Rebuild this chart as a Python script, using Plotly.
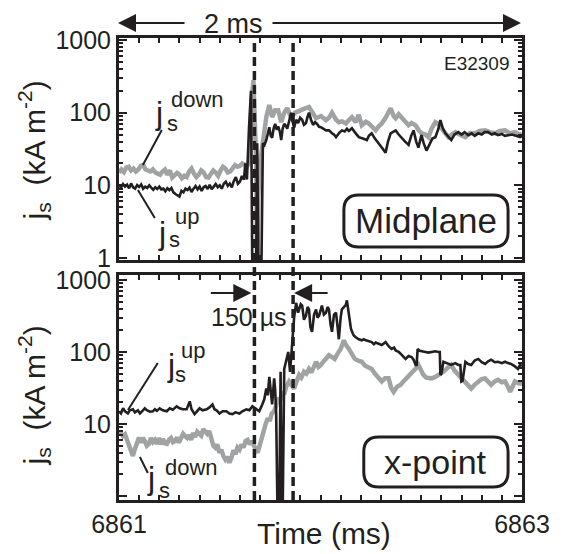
import plotly.graph_objects as go

# ---------------- data (time offsets in ms from 6861, values in kA m^-2) -------------
T0 = 6861.0

mid_down_t = [0.000, 0.012, 0.024, 0.036, 0.048, 0.060, 0.072, 0.084, 0.096, 0.108, 0.120, 0.132, 0.144, 0.156,
              0.168, 0.180, 0.192, 0.204, 0.216, 0.228, 0.240, 0.252, 0.264, 0.276, 0.288, 0.300, 0.312, 0.324,
              0.336, 0.348, 0.360, 0.372, 0.384, 0.396, 0.408, 0.420, 0.432, 0.444, 0.456, 0.468, 0.480, 0.492,
              0.504, 0.516, 0.528, 0.540, 0.552, 0.564, 0.576, 0.588, 0.600, 0.612, 0.624, 0.636, 0.648, 0.657,
              0.667, 0.675, 0.681, 0.686, 0.691, 0.700, 0.711, 0.721, 0.731, 0.746, 0.760, 0.775, 0.790, 0.805,
              0.820, 0.835, 0.854, 0.874, 0.894, 0.914, 0.943, 0.963, 0.978, 1.002, 1.027, 1.042, 1.057, 1.077,
              1.091, 1.106, 1.126, 1.141, 1.156, 1.175, 1.190, 1.205, 1.225, 1.240, 1.260, 1.274, 1.289, 1.304,
              1.323, 1.348, 1.363, 1.373, 1.388, 1.402, 1.422, 1.437, 1.452, 1.472, 1.486, 1.501, 1.521, 1.536,
              1.551, 1.570, 1.585, 1.600, 1.620, 1.635, 1.649, 1.669, 1.690, 1.719, 1.740, 1.768, 1.790, 1.817,
              1.840, 1.867, 1.890, 1.916, 1.940, 1.965, 1.990, 2.000]
mid_down_v = [15, 16.5, 15.2, 17.5, 18, 16, 17, 15.5, 16.5, 18.5, 19, 16.5, 16, 15.5,
              16.5, 15, 14.5, 14, 15.5, 16.5, 14, 16, 12.8, 13.5, 14.8, 14, 12.5, 13.5,
              13, 15.5, 17, 14.5, 13, 14, 16, 15, 13, 12.8, 14.5, 16, 15, 13.5,
              16, 18, 17, 15, 15.5, 17.5, 19, 18, 18.5, 20, 19.5, 18.5, 21, 135,
              280, 60, 20, 0.5, 7, 20, 34, 60, 87, 127, 87, 108, 108, 74,
              100, 115, 87, 100, 108, 112, 120, 100, 84, 90, 79, 85, 100, 80,
              74, 76, 71, 79, 87, 74, 93, 67, 75, 71, 64, 57, 65, 71,
              85, 115, 90, 84, 95, 87, 75, 67, 72, 67, 58, 52, 50, 46,
              60, 74, 70, 63, 52, 46, 50, 54, 50, 46, 52, 52, 56, 57,
              54, 52, 56, 57, 52, 54, 49, 52]

mid_up_t = [0.000, 0.010, 0.020, 0.030, 0.040, 0.050, 0.060, 0.070, 0.080, 0.090, 0.100, 0.110, 0.120, 0.130,
            0.140, 0.150, 0.160, 0.170, 0.180, 0.190, 0.200, 0.210, 0.220, 0.230, 0.240, 0.250, 0.260, 0.270,
            0.280, 0.290, 0.300, 0.310, 0.320, 0.330, 0.340, 0.350, 0.360, 0.370, 0.380, 0.390, 0.400, 0.410,
            0.420, 0.430, 0.440, 0.450, 0.460, 0.470, 0.480, 0.490, 0.500, 0.510, 0.520, 0.530, 0.540, 0.550,
            0.560, 0.570, 0.580, 0.590, 0.600, 0.610, 0.620, 0.627, 0.635, 0.645, 0.655, 0.662, 0.672, 0.680,
            0.686, 0.692, 0.700, 0.706, 0.714, 0.722, 0.731, 0.740, 0.746, 0.753, 0.760, 0.768, 0.775, 0.783,
            0.790, 0.798, 0.805, 0.812, 0.820, 0.828, 0.835, 0.845, 0.854, 0.862, 0.869, 0.879, 0.889, 0.899,
            0.909, 0.918, 0.928, 0.936, 0.943, 0.953, 0.963, 0.973, 0.983, 0.993, 1.002, 1.015, 1.027, 1.042,
            1.050, 1.057, 1.067, 1.077, 1.091, 1.106, 1.120, 1.131, 1.141, 1.156, 1.170, 1.190, 1.210, 1.230,
            1.240, 1.254, 1.270, 1.289, 1.305, 1.323, 1.335, 1.348, 1.360, 1.373, 1.388, 1.402, 1.420, 1.437,
            1.450, 1.462, 1.475, 1.486, 1.501, 1.512, 1.526, 1.540, 1.555, 1.570, 1.585, 1.595, 1.608, 1.620,
            1.635, 1.649, 1.665, 1.684, 1.700, 1.715, 1.733, 1.750, 1.765, 1.783, 1.800, 1.815, 1.832, 1.850,
            1.865, 1.881, 1.900, 1.915, 1.931, 1.950, 1.970, 1.990, 2.000]
mid_up_v = [10, 9.3, 10.4, 9.6, 10.2, 9.1, 10.6, 9.4, 9.0, 10.1, 9.5, 10.3, 9.0, 9.6,
            9.2, 10.0, 9.3, 8.7, 9.4, 8.9, 9.6, 8.8, 9.0, 8.3, 9.1, 8.6, 9.2, 8.0,
            7.6, 7.2, 7.0, 8.4, 8.0, 9.0, 8.6, 9.3, 8.1, 9.0, 9.8, 8.8, 9.6, 8.4,
            9.4, 9.8, 8.9, 10.2, 8.8, 9.6, 10.4, 9.4, 10.0, 9.0, 10.5, 11.2, 9.8, 10.6,
            9.4, 11.5, 13.0, 10.5, 11.2, 13.5, 12.0, 20, 12, 60, 200, 0.5, 0.5, 0.5,
            38, 0.5, 0.5, 0.5, 38, 36, 42, 55, 63, 48, 45, 62, 70, 58,
            65, 55, 42, 60, 70, 66, 60, 78, 100, 75, 62, 80, 72, 85,
            80, 68, 72, 88, 100, 80, 68, 74, 70, 64, 63, 60, 57, 57,
            54, 52, 50, 46, 52, 57, 55, 60, 56, 61, 54, 46, 44, 42,
            48, 52, 44, 38, 33, 28, 40, 52, 54, 57, 50, 46, 40, 36,
            48, 57, 40, 33, 49, 38, 30, 36, 44, 46, 60, 79, 60, 52,
            46, 42, 50, 54, 50, 54, 49, 52, 48, 52, 50, 54, 54, 50,
            52, 49, 51, 48, 49, 50, 48, 46, 48]

xp_down_t = [0.000, 0.010, 0.020, 0.030, 0.040, 0.050, 0.060, 0.069, 0.079, 0.089, 0.099, 0.109, 0.119, 0.128,
             0.138, 0.148, 0.158, 0.168, 0.178, 0.188, 0.198, 0.208, 0.218, 0.228, 0.238, 0.248, 0.258, 0.268,
             0.278, 0.288, 0.298, 0.308, 0.318, 0.328, 0.338, 0.348, 0.358, 0.368, 0.378, 0.388, 0.398, 0.408,
             0.418, 0.428, 0.438, 0.448, 0.458, 0.468, 0.478, 0.488, 0.498, 0.508, 0.518, 0.528, 0.538, 0.548,
             0.558, 0.568, 0.578, 0.588, 0.598, 0.608, 0.618, 0.628, 0.638, 0.648, 0.658, 0.668, 0.678, 0.688,
             0.698, 0.708, 0.718, 0.728, 0.738, 0.748, 0.758, 0.770, 0.780, 0.790, 0.800, 0.810, 0.820, 0.830,
             0.844, 0.855, 0.869, 0.880, 0.894, 0.905, 0.918, 0.930, 0.943, 0.955, 0.968, 0.978, 0.990, 1.002,
             1.017, 1.030, 1.042, 1.057, 1.070, 1.085, 1.100, 1.116, 1.126, 1.141, 1.155, 1.170, 1.185, 1.205,
             1.220, 1.240, 1.254, 1.270, 1.285, 1.304, 1.320, 1.338, 1.350, 1.363, 1.380, 1.398, 1.415, 1.427,
             1.445, 1.462, 1.475, 1.486, 1.498, 1.511, 1.525, 1.551, 1.570, 1.590, 1.610, 1.630, 1.649, 1.665,
             1.684, 1.700, 1.719, 1.735, 1.748, 1.765, 1.783, 1.800, 1.817, 1.832, 1.847, 1.865, 1.881, 1.900,
             1.916, 1.930, 1.941, 1.955, 1.965, 1.980, 2.000]
xp_down_v = [8, 7.5, 6.8, 7.2, 6, 5, 4, 3.6, 4.5, 5.8, 6.5, 5.5, 6.4, 5.8,
             5.0, 5.3, 6.4, 5.6, 6.0, 5.3, 6.4, 5.2, 6.2, 5.4, 5.3, 6.0, 6.4, 5.6,
             5.8, 6.5, 5.5, 6.4, 7.3, 6.8, 6.4, 7.0, 6.0, 7.5, 6.6, 7.8, 7.3, 6.9,
             8.5, 7.6, 7.3, 8.0, 6.2, 5.0, 4.7, 5.2, 4.0, 4.4, 3.6, 3.2, 3.5, 2.9,
             3.4, 4.3, 3.8, 4.7, 4.4, 5.2, 4.7, 5.8, 6.0, 5.2, 5.8, 5.0, 4.4, 4.0,
             5.0, 6.5, 8.0, 10, 12, 11, 14, 15, 18, 23, 21, 28, 26, 33,
             39, 35, 31, 38, 48, 44, 53, 50, 58, 52, 65, 73, 62, 66,
             75, 82, 90, 85, 80, 95, 110, 145, 125, 110, 95, 80, 76, 73,
             65, 62, 58, 50, 44, 39, 43, 43, 32, 28, 33, 35, 40, 43,
             48, 53, 60, 66, 55, 48, 44, 43, 45, 48, 53, 60, 66, 55,
             48, 44, 39, 33, 31, 35, 39, 42, 43, 38, 35, 39, 41, 38,
             39, 33, 28, 34, 39, 37, 36]

xp_up_t = [0.000, 0.010, 0.020, 0.030, 0.044, 0.054, 0.069, 0.079, 0.094, 0.104, 0.119, 0.128, 0.138, 0.153,
           0.168, 0.178, 0.188, 0.202, 0.217, 0.237, 0.252, 0.267, 0.286, 0.301, 0.316, 0.336, 0.351, 0.360,
           0.375, 0.385, 0.400, 0.415, 0.435, 0.449, 0.464, 0.474, 0.484, 0.499, 0.514, 0.533, 0.548, 0.563,
           0.578, 0.598, 0.612, 0.632, 0.647, 0.662, 0.681, 0.696, 0.711, 0.721, 0.731, 0.738, 0.746, 0.753,
           0.760, 0.770, 0.775, 0.780, 0.787, 0.795, 0.802, 0.807, 0.812, 0.820, 0.830, 0.840, 0.849, 0.859,
           0.869, 0.879, 0.889, 0.894, 0.902, 0.909, 0.918, 0.928, 0.936, 0.943, 0.950, 0.958, 0.968, 0.978,
           0.985, 0.993, 1.002, 1.007, 1.017, 1.027, 1.035, 1.042, 1.050, 1.057, 1.067, 1.077, 1.085, 1.091,
           1.100, 1.106, 1.116, 1.126, 1.131, 1.141, 1.151, 1.160, 1.165, 1.175, 1.190, 1.205, 1.215, 1.225,
           1.240, 1.254, 1.265, 1.274, 1.289, 1.304, 1.323, 1.338, 1.353, 1.365, 1.373, 1.388, 1.402, 1.412,
           1.422, 1.437, 1.452, 1.462, 1.472, 1.477, 1.482, 1.492, 1.511, 1.521, 1.536, 1.551, 1.570, 1.585,
           1.592, 1.595, 1.600, 1.610, 1.625, 1.649, 1.669, 1.684, 1.694, 1.699, 1.705, 1.719, 1.733, 1.748,
           1.765, 1.783, 1.800, 1.817, 1.832, 1.847, 1.865, 1.881, 1.900, 1.916, 1.930, 1.946, 1.965, 1.980,
           1.990, 2.000]
xp_up_v = [15, 14, 16.5, 15, 14, 15.5, 16, 14.5, 15.5, 14, 15.5, 16.5, 15.5, 14.8,
           15, 16, 15.2, 16.5, 15.5, 15, 16.5, 15.8, 17.6, 16.5, 16, 16, 20.6, 16,
           13.7, 15, 16.5, 15.5, 16, 17, 18.7, 16, 15.5, 14, 15, 15, 14, 13.7,
           14.5, 14, 15, 16, 15.5, 17.6, 16, 15, 18.7, 22, 31, 25, 45, 30,
           18.7, 43, 30, 13.7, 0.5, 0.5, 53, 0.5, 0.5, 58, 73, 100, 53, 137,
           300, 480, 350, 390, 460, 440, 280, 320, 420, 390, 220, 190, 330, 390,
           300, 320, 380, 440, 330, 350, 420, 390, 240, 190, 330, 350, 220, 150,
           300, 390, 420, 450, 520, 300, 210, 180, 170, 160, 150, 145, 150, 145,
           140, 137, 128, 135, 130, 125, 137, 120, 110, 115, 105, 100, 92, 85,
           80, 88, 85, 78, 66, 66, 110, 104, 100, 100, 98, 100, 102, 100,
           100, 48, 50, 73, 70, 66, 70, 66, 66, 39, 40, 73, 68, 66,
           76, 80, 72, 68, 74, 78, 72, 73, 70, 73, 70, 68, 63, 58,
           66, 64]

event_t = [0.672, 0.864]          # dashed markers (ms after 6861)

x_ticks = [6861, 6861.5, 6862, 6862.5, 6863]
x_ticktext = ["6861", "", "", "", "6863"]
y_ticks = [1, 10, 100, 1000]
y_top_text = ["1", "10", "100", "1000"]
y_bot_text = ["", "10", "100", "1000"]

# ---------------- styling/layout ----------------
W, H = 562, 554
L, R, TP, B = 119, 524, 38, 500
PW, PH = R - L, B - TP
FONT = "Liberation Sans, Arial, Helvetica, sans-serif"
INK = "#231f20"
GRAY = "#a0a2a4"


def P(px, py):
    return (px - L) / PW, (B - py) / PH


def tt(v):
    return [T0 + a for a in v]


fig = go.Figure()
fig.add_trace(go.Scatter(x=tt(mid_down_t), y=mid_down_v, mode="lines",
                         line=dict(color=GRAY, width=4.5), xaxis="x", yaxis="y"))
fig.add_trace(go.Scatter(x=tt(mid_up_t), y=mid_up_v, mode="lines",
                         line=dict(color=INK, width=2.6), xaxis="x", yaxis="y"))
fig.add_trace(go.Scatter(x=tt(xp_down_t), y=xp_down_v, mode="lines",
                         line=dict(color=GRAY, width=4.5), xaxis="x2", yaxis="y2"))
fig.add_trace(go.Scatter(x=tt(xp_up_t), y=xp_up_v, mode="lines",
                         line=dict(color=INK, width=2.6), xaxis="x2", yaxis="y2"))

minor_x = [6861 + 0.1 * i for i in range(21)]
minor_y = [m * 10 ** k for k in range(3) for m in range(2, 10)]

tickfont = dict(family=FONT, size=25, color=INK)
xcommon = dict(range=[6861, 6863], tickmode="array", tickvals=x_ticks, ticktext=x_ticktext,
               ticks="inside", ticklen=8, tickwidth=2, tickcolor=INK, mirror="allticks",
               showline=True, linewidth=3, linecolor=INK, showgrid=False, zeroline=False,
               tickfont=tickfont,
               minor=dict(tickmode="array", tickvals=minor_x, ticks="inside", ticklen=5,
                          tickwidth=2, tickcolor=INK, showgrid=False))
ycommon = dict(type="log", tickmode="array", tickvals=y_ticks,
               ticks="inside", ticklen=8, tickwidth=2, tickcolor=INK, mirror="allticks",
               showline=True, linewidth=3, linecolor=INK, showgrid=False, zeroline=False,
               tickfont=tickfont,
               minor=dict(tickmode="array", tickvals=minor_y, ticks="inside", ticklen=4,
                          tickwidth=1.5, tickcolor=INK, showgrid=False))

top_lo = (B - 260) / PH
bot_hi = (B - 275) / PH

fig.update_layout(
    width=W, height=H, margin=dict(l=L, r=W - R, t=TP, b=H - B),
    paper_bgcolor="white", plot_bgcolor="white", showlegend=False,
    xaxis=dict(**xcommon, anchor="y", domain=[0, 1], showticklabels=False),
    yaxis=dict(**ycommon, ticktext=y_top_text, anchor="x", domain=[top_lo, 1], range=[-0.028, 3.028]),
    xaxis2=dict(**xcommon, anchor="y2", domain=[0, 1], matches="x"),
    yaxis2=dict(**ycommon, ticktext=y_bot_text, anchor="x2", domain=[0, bot_hi], range=[-0.055, 3.068]),
)

shapes = []
for t in event_t:
    shapes.append(dict(type="line", xref="x", yref="paper", x0=T0 + t, x1=T0 + t, y0=0, y1=1,
                       line=dict(color=INK, width=3.5, dash="9px,5px")))


def seg(p0, p1):
    a, b = P(*p0), P(*p1)
    return dict(type="line", xref="paper", yref="paper", x0=a[0], y0=a[1], x1=b[0], y1=b[1],
                line=dict(color=INK, width=2))


shapes += [seg((143, 165), (162, 130)), seg((138, 190), (155, 218)),
           seg((128, 410), (158, 363)), seg((140, 457), (148, 473))]


def rbox(x0, y0, x1, y1, r=15):
    rx, ry = r / PW, r / PH
    a0, b1 = P(x0, y0)
    a1, b0 = P(x1, y1)
    path = (f"M{a0 + rx},{b1} L{a1 - rx},{b1} Q{a1},{b1} {a1},{b1 - ry} "
            f"L{a1},{b0 + ry} Q{a1},{b0} {a1 - rx},{b0} L{a0 + rx},{b0} "
            f"Q{a0},{b0} {a0},{b0 + ry} L{a0},{b1 - ry} Q{a0},{b1} {a0 + rx},{b1} Z")
    return dict(type="path", xref="paper", yref="paper", path=path,
                line=dict(color=INK, width=3))


shapes += [rbox(345, 195, 510, 247), rbox(365, 437, 510, 487)]
fig.update_layout(shapes=shapes)

ann = []


def txt(s, px, py, size, angle=0):
    x, y = P(px, py)
    ann.append(dict(text=s, x=x, y=y, xref="paper", yref="paper", showarrow=False,
                    xanchor="center", yanchor="middle", textangle=angle,
                    font=dict(family=FONT, size=size, color=INK)))


def arrow(tip, tail):
    x, y = P(*tip)
    ann.append(dict(text="", x=x, y=y, xref="paper", yref="paper", showarrow=True,
                    ax=tail[0] - tip[0], ay=tail[1] - tip[1], axref="pixel", ayref="pixel",
                    arrowhead=2, arrowsize=1.8, arrowwidth=2, arrowcolor=INK, standoff=0))


txt("j<sub>s</sub>  (kA m<sup>-2</sup>)", 34, 150, 30, -90)
txt("j<sub>s</sub>  (kA m<sup>-2</sup>)", 34, 395, 30, -90)
txt("Time (ms)", 325, 533, 30)
txt("2 ms", 234, 24, 27)
txt("E32309", 479, 63, 19)
txt("Midplane", 427.5, 221, 35)
txt("x-point", 437.5, 462, 34)
txt("150 µs", 250, 317, 25)

# curve labels: j, subscript s, superscript
txt("j", 159, 113, 32); txt("s", 173, 123, 22); txt("down", 198, 99, 22)
txt("j", 162, 233, 32); txt("s", 175, 240, 22); txt("up", 187, 216, 22)
txt("j", 171, 365, 32); txt("s", 181, 374, 22); txt("up", 193, 350, 22)
txt("j", 151, 478, 32); txt("s", 165, 490, 22); txt("down", 192, 467, 22)

arrow((118, 23), (186, 23))
arrow((523, 23), (273, 23))
arrow((252, 293), (210, 293))
arrow((295, 293), (330, 293))

fig.update_layout(annotations=ann)
fig.write_html("out.html")
